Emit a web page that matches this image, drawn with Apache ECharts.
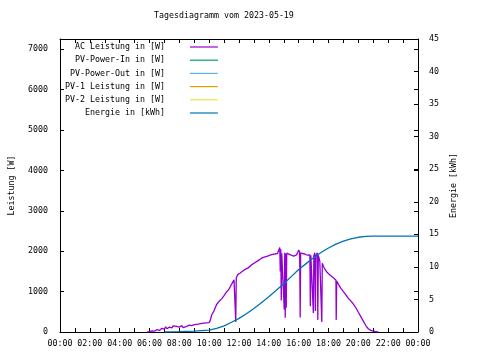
<!DOCTYPE html>
<html><head><meta charset="utf-8">
<script src="https://cdn.jsdelivr.net/npm/echarts@6/dist/echarts.min.js"></script>
<style>html,body{margin:0;padding:0;background:#fff}#c{width:480px;height:360px}</style>
</head><body><div id="c"></div>
<script>
const titleText = 'Tagesdiagramm vom 2023-05-19';
const seriesNames = ['AC Leistung in [W]','PV-Power-In in [W]','PV-Power-Out in [W]','PV-1 Leistung in [W]','PV-2 Leistung in [W]','Energie in [kWh]'];
const seriesColors = ['#9400d3','#009e73','#56b4e9','#e69f00','#f0e442','#0072b2'];
const hourLabels = ['00:00','02:00','04:00','06:00','08:00','10:00','12:00','14:00','16:00','18:00','20:00','22:00','00:00'];

const acTimes = ['05:50','06:00','06:10','06:20','06:30','06:40','06:50','07:00','07:05','07:10','07:20','07:30','07:35','07:40','07:50','08:00','08:10','08:15','08:20','08:30','08:40','08:50','09:00','09:10','09:20','09:30','09:40','09:50','10:00','10:05','10:10','10:20','10:30','10:40','10:50','11:00','11:10','11:20','11:30','11:40','11:45','11:47','11:49','11:55','12:05','12:15','12:25','12:35','12:45','12:55','13:05','13:15','13:25','13:35','13:45','13:55','14:05','14:15','14:25','14:35','14:42','14:44','14:46','14:48','14:50','14:52','14:58','15:00','15:02','15:04','15:06','15:08','15:10','15:12','15:20','15:30','15:40','15:50','15:55','16:00','16:04','16:06','16:08','16:15','16:25','16:35','16:45','16:47','16:49','16:57','16:59','17:01','17:05','17:07','17:09','17:15','17:17','17:19','17:25','17:30','17:33','17:35','17:40','17:45','17:50','17:55','18:00','18:08','18:15','18:22','18:30','18:31','18:33','18:40','18:50','19:00','19:10','19:20','19:30','19:40','19:50','20:00','20:10','20:20','20:30','20:40','20:50','21:00','21:10','21:20'];
const acPower = [0,10,30,20,60,40,90,70,130,80,120,100,150,110,140,120,160,110,150,140,170,160,180,190,200,215,220,225,230,300,420,530,680,760,820,900,990,1060,1180,1290,1320,250,1340,1420,1460,1510,1550,1580,1630,1680,1720,1760,1800,1840,1860,1880,1900,1920,1930,1945,1960,2090,1500,2050,780,1950,1970,1950,550,1960,350,1940,600,1950,1930,1900,1880,1900,1950,2030,1980,360,1950,1920,1930,1900,1910,640,1900,1920,470,1890,1960,520,1880,1960,300,1900,1750,1720,250,1700,1620,1560,1520,1470,1440,1400,1370,1330,1280,300,1260,1180,1080,1000,920,830,770,690,600,490,380,270,160,80,40,20,10,0];

const energyTimes = ['07:00','08:00','09:00','10:00','10:30','11:00','11:30','12:00','12:30','13:00','13:30','14:00','14:30','15:00','15:30','16:00','16:30','17:00','17:30','18:00','18:30','19:00','19:30','20:00','20:30','21:00','24:00'];
const energyKwh = [0,0.05,0.12,0.3,0.55,0.95,1.5,2.1,2.8,3.6,4.5,5.4,6.4,7.4,8.5,9.6,10.5,11.4,12.2,12.9,13.5,13.95,14.3,14.55,14.68,14.72,14.72];

function toMin(t){const p=t.split(':');return (+p[0])*60+(+p[1]);}
const acData = acTimes.map((t,i)=>[toMin(t),acPower[i]]);
const enData = energyTimes.map((t,i)=>[toMin(t),energyKwh[i]]);

const FONT = 'DejaVu Sans Mono';
const FS = 8.3;
const txt = {fontFamily:FONT,fontSize:FS,color:'#000'};
const line = {show:true,onZero:false,lineStyle:{color:'#000',width:1}};
const tick = {show:true,inside:true,length:4,lineStyle:{color:'#000',width:1}};

const series = seriesNames.map((n,i)=>({
  name:n, type:'line', symbol:'none', showSymbol:false, animation:false,
  yAxisIndex: i===5?1:0,
  data: i===0?acData:(i===5?enData:[]),
  lineStyle:{color:seriesColors[i],width:1.3},
  itemStyle:{color:seriesColors[i]}
}));

const chart = echarts.init(document.getElementById('c'),null,{renderer:'canvas'});
chart.setOption({
  animation:false,
  backgroundColor:'#fff',
  title:{text:titleText,left:154,top:12,padding:0,textStyle:{fontFamily:FONT,fontSize:FS,fontWeight:'normal',color:'#000'}},
  legend:{orient:'vertical',left:65,top:42,padding:0,align:'right',itemWidth:28,itemHeight:10,itemGap:3.2,
    itemStyle:{opacity:0,borderWidth:0},lineStyle:{width:1.2},
    textStyle:Object.assign({lineHeight:10},txt), formatter:n=>n+'    ', data:seriesNames, selectedMode:false},
  grid:{left:58,right:62,top:39,bottom:28,containLabel:false},
  xAxis:[
    {type:'value',position:'bottom',min:0,max:1440,interval:60,axisLine:line,axisTick:tick,splitLine:{show:false},
     axisLabel:Object.assign({margin:8,showMinLabel:true,showMaxLabel:true,formatter:v=>(v%120===0)?hourLabels[v/120]:''},txt)},
    {type:'value',position:'top',min:0,max:1440,interval:60,axisLine:line,axisTick:tick,splitLine:{show:false},axisLabel:{show:false}}
  ],
  yAxis:[
    {type:'value',position:'left',min:0,max:7250,interval:1000,axisLine:line,axisTick:tick,splitLine:{show:false},
     axisLabel:Object.assign({margin:12,formatter:v=>(v%1000===0)?String(v):''},txt),
     name:'Leistung [W]',nameLocation:'middle',nameRotate:90,nameGap:44,nameTextStyle:txt},
    {type:'value',position:'right',min:0,max:45,interval:5,axisLine:line,axisTick:tick,splitLine:{show:false},
     axisLabel:Object.assign({margin:11},txt),
     name:'Energie [kWh]',nameLocation:'middle',nameRotate:90,nameGap:31,nameTextStyle:txt},
    {type:'value',position:'right',offset:0,min:0,max:7250,interval:1000,axisLine:{show:false,onZero:false},axisTick:tick,splitLine:{show:false},axisLabel:{show:false}}
  ],
  series:series
});
</script></body></html>
